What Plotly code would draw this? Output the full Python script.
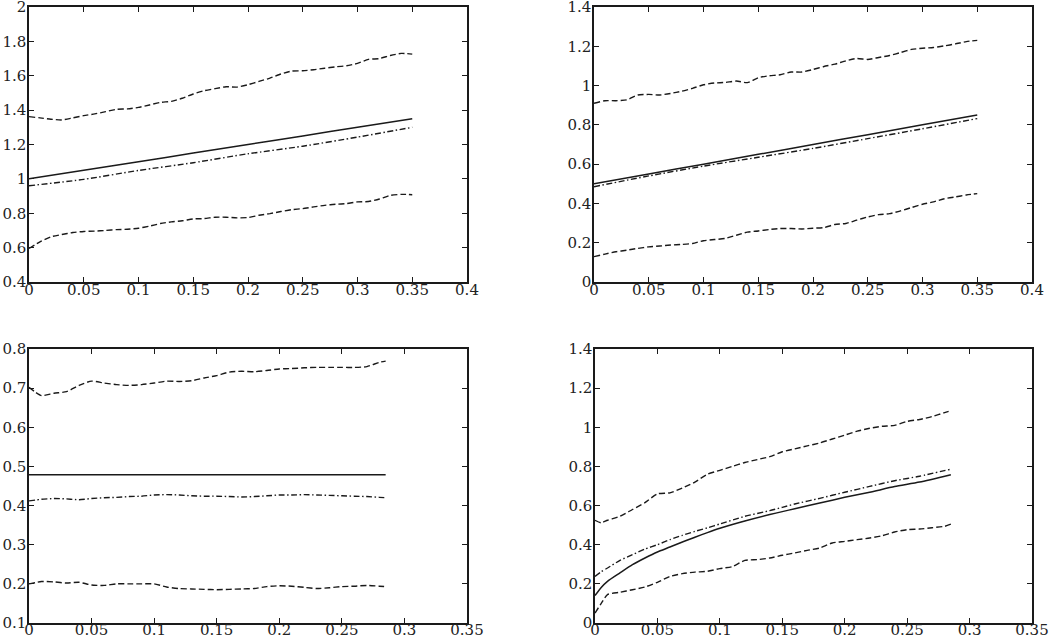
import plotly.graph_objects as go

# ---------------- data ----------------
x_a = [0.00, 0.01, 0.02, 0.03, 0.04, 0.05, 0.06, 0.07, 0.08, 0.09, 0.10, 0.11,
       0.12, 0.13, 0.14, 0.15, 0.16, 0.17, 0.18, 0.19, 0.20, 0.21, 0.22, 0.23,
       0.24, 0.25, 0.26, 0.27, 0.28, 0.29, 0.30, 0.31, 0.32, 0.33, 0.34, 0.35]

# panel 1 (top-left)
p1_upper = [1.362, 1.355, 1.347, 1.343, 1.355, 1.368, 1.378, 1.391, 1.405, 1.407,
            1.416, 1.430, 1.445, 1.451, 1.469, 1.494, 1.513, 1.525, 1.536, 1.534,
            1.548, 1.567, 1.586, 1.610, 1.627, 1.629, 1.635, 1.644, 1.652, 1.658,
            1.672, 1.695, 1.700, 1.718, 1.730, 1.726]
p1_lower = [0.595, 0.634, 0.663, 0.676, 0.688, 0.694, 0.696, 0.700, 0.705, 0.707,
            0.713, 0.725, 0.740, 0.750, 0.756, 0.767, 0.769, 0.777, 0.777, 0.773,
            0.775, 0.788, 0.798, 0.810, 0.821, 0.827, 0.837, 0.846, 0.852, 0.856,
            0.866, 0.868, 0.883, 0.904, 0.910, 0.908]
x_coarse = [0.00, 0.05, 0.10, 0.15, 0.20, 0.25, 0.30, 0.35]
p1_solid = [1.00, 1.05, 1.10, 1.15, 1.20, 1.25, 1.30, 1.35]
p1_dashdot = [0.960, 0.997, 1.049, 1.094, 1.146, 1.190, 1.243, 1.300]

# panel 2 (top-right)
p2_upper = [0.910, 0.923, 0.923, 0.927, 0.952, 0.955, 0.952, 0.960, 0.971, 0.986,
            1.004, 1.013, 1.016, 1.023, 1.015, 1.040, 1.050, 1.055, 1.069, 1.069,
            1.082, 1.097, 1.109, 1.126, 1.138, 1.133, 1.143, 1.153, 1.168, 1.184,
            1.190, 1.194, 1.202, 1.212, 1.224, 1.230]
p2_lower = [0.129, 0.142, 0.154, 0.162, 0.171, 0.179, 0.183, 0.188, 0.191, 0.196,
            0.210, 0.216, 0.222, 0.238, 0.254, 0.260, 0.267, 0.272, 0.272, 0.270,
            0.274, 0.277, 0.293, 0.298, 0.315, 0.331, 0.343, 0.348, 0.362, 0.379,
            0.396, 0.408, 0.424, 0.433, 0.443, 0.450]
p2_solid = [0.50, 0.55, 0.60, 0.65, 0.70, 0.75, 0.80, 0.85]
p2_dashdot = [0.485, 0.540, 0.590, 0.635, 0.680, 0.730, 0.780, 0.832]

# panel 3 (bottom-left)
x_b = [0.000, 0.005, 0.010, 0.020, 0.030, 0.040, 0.050, 0.060, 0.070, 0.080,
       0.090, 0.100, 0.110, 0.120, 0.130, 0.140, 0.150, 0.160, 0.170, 0.180,
       0.190, 0.200, 0.210, 0.220, 0.230, 0.240, 0.250, 0.260, 0.270, 0.280,
       0.285]
p3_upper = [0.702, 0.690, 0.681, 0.687, 0.691, 0.707, 0.718, 0.713, 0.709, 0.707,
            0.709, 0.713, 0.718, 0.717, 0.719, 0.726, 0.732, 0.741, 0.743, 0.742,
            0.745, 0.749, 0.750, 0.752, 0.753, 0.753, 0.753, 0.753, 0.755, 0.766,
            0.769]
p3_lower = [0.200, 0.203, 0.206, 0.205, 0.202, 0.204, 0.197, 0.196, 0.200, 0.200,
            0.200, 0.200, 0.192, 0.188, 0.187, 0.186, 0.185, 0.186, 0.187, 0.188,
            0.193, 0.195, 0.194, 0.191, 0.188, 0.190, 0.193, 0.194, 0.196, 0.194,
            0.193]
p3_dashdot = [0.412, 0.414, 0.416, 0.418, 0.417, 0.415, 0.418, 0.420, 0.421, 0.423,
              0.424, 0.427, 0.428, 0.427, 0.425, 0.424, 0.424, 0.423, 0.422, 0.423,
              0.425, 0.427, 0.427, 0.428, 0.427, 0.426, 0.425, 0.424, 0.423, 0.421,
              0.420]
p3_solid = [0.479] * len(x_b)

# panel 4 (bottom-right)
p4_upper = [0.525, 0.512, 0.525, 0.545, 0.580, 0.615, 0.660, 0.665, 0.690, 0.720,
            0.760, 0.780, 0.800, 0.820, 0.835, 0.850, 0.875, 0.890, 0.905, 0.920,
            0.940, 0.960, 0.980, 0.995, 1.005, 1.010, 1.030, 1.040, 1.055, 1.075,
            1.085]
p4_lower = [0.051, 0.100, 0.145, 0.157, 0.170, 0.184, 0.208, 0.238, 0.252, 0.260,
            0.264, 0.278, 0.288, 0.320, 0.324, 0.332, 0.346, 0.358, 0.371, 0.383,
            0.409, 0.417, 0.426, 0.434, 0.446, 0.465, 0.477, 0.480, 0.487, 0.494,
            0.505]
x_c = [0.000, 0.005, 0.010, 0.020, 0.030, 0.040, 0.050, 0.060, 0.070, 0.080,
       0.090, 0.100, 0.120, 0.140, 0.150, 0.160, 0.180, 0.200, 0.220, 0.240,
       0.260, 0.285]
p4_solid = [0.140, 0.182, 0.213, 0.256, 0.298, 0.332, 0.363, 0.388, 0.414, 0.438,
            0.462, 0.484, 0.521, 0.554, 0.569, 0.584, 0.613, 0.642, 0.668, 0.697,
            0.720, 0.758]
p4_dashdot = [0.238, 0.262, 0.281, 0.320, 0.349, 0.378, 0.400, 0.426, 0.448, 0.468,
              0.486, 0.506, 0.545, 0.574, 0.591, 0.608, 0.637, 0.668, 0.698, 0.727,
              0.750, 0.786]

# tick labels
xt_top = [0, 0.05, 0.1, 0.15, 0.2, 0.25, 0.3, 0.35, 0.4]
xt_top_text = ["0", "0.05", "0.1", "0.15", "0.2", "0.25", "0.3", "0.35", "0.4"]
xt_bot = [0, 0.05, 0.1, 0.15, 0.2, 0.25, 0.3, 0.35]
xt_bot_text = ["0", "0.05", "0.1", "0.15", "0.2", "0.25", "0.3", "0.35"]
yt1 = [0.4, 0.6, 0.8, 1.0, 1.2, 1.4, 1.6, 1.8, 2.0]
yt1_text = ["0.4", "0.6", "0.8", "1", "1.2", "1.4", "1.6", "1.8", "2"]
yt2 = [0, 0.2, 0.4, 0.6, 0.8, 1.0, 1.2, 1.4]
yt2_text = ["0", "0.2", "0.4", "0.6", "0.8", "1", "1.2", "1.4"]
yt3 = [0.1, 0.2, 0.3, 0.4, 0.5, 0.6, 0.7, 0.8]
yt3_text = ["0.1", "0.2", "0.3", "0.4", "0.5", "0.6", "0.7", "0.8"]
yt4 = yt2
yt4_text = yt2_text

# ---------------- figure ----------------
W, H = 1050, 638
FONT = "DejaVu Serif"
INK = "#1a1a1a"
DASH = "6px,3px"
DASHDOT = "6px,2.5px,1.5px,2.5px"

fig = go.Figure()

def add(xs, ys, n, dash, width=1.4):
    fig.add_trace(go.Scatter(
        x=xs, y=ys, mode="lines", xaxis="x" + ("" if n == 1 else str(n)),
        yaxis="y" + ("" if n == 1 else str(n)),
        line=dict(color=INK, width=width, dash=dash, shape="spline", smoothing=0.6),
        showlegend=False, hoverinfo="skip"))

add(x_a, p1_upper, 1, DASH)
add(x_a, p1_lower, 1, DASH)
add(x_coarse, p1_solid, 1, "solid", 1.5)
add(x_coarse, p1_dashdot, 1, DASHDOT)

add(x_a, p2_upper, 2, DASH)
add(x_a, p2_lower, 2, DASH)
add(x_coarse, p2_solid, 2, "solid", 1.5)
add(x_coarse, p2_dashdot, 2, DASHDOT)

add(x_b, p3_upper, 3, DASH)
add(x_b, p3_lower, 3, DASH)
add(x_b, p3_solid, 3, "solid", 1.5)
add(x_b, p3_dashdot, 3, DASHDOT)

add(x_b, p4_upper, 4, DASH)
add(x_b, p4_lower, 4, DASH)
add(x_c, p4_solid, 4, "solid", 1.5)
add(x_c, p4_dashdot, 4, DASHDOT)

def px_x(a, b):
    return [a / W, b / W]

def px_y(top, bottom):
    return [1 - bottom / H, 1 - top / H]

common = dict(showgrid=False, zeroline=False, showline=True, linecolor=INK,
              linewidth=1.5, mirror="ticks", ticks="inside", ticklen=5,
              tickwidth=1.2, tickcolor=INK, automargin=False,
              ticklabeloverflow="allow",
              tickfont=dict(family=FONT, size=15, color="#222"))
xcommon = dict(common, ticklabelstandoff=-7)
xcommon_bot = dict(common, ticklabelstandoff=-8)
ycommon = dict(common, ticklabelstandoff=-2)

fig.update_layout(
    width=W, height=H, margin=dict(l=0, r=0, t=0, b=0),
    paper_bgcolor="white", plot_bgcolor="white", showlegend=False,
    xaxis=dict(domain=px_x(29, 467), range=[0, 0.4], tickvals=xt_top,
               ticktext=xt_top_text, anchor="y", **xcommon),
    yaxis=dict(domain=px_y(7, 282), range=[0.4, 2.0], tickvals=yt1,
               ticktext=yt1_text, anchor="x", **ycommon),
    xaxis2=dict(domain=px_x(594, 1032), range=[0, 0.4], tickvals=xt_top,
                ticktext=xt_top_text, anchor="y2", **xcommon),
    yaxis2=dict(domain=px_y(7, 282), range=[0, 1.4], tickvals=yt2,
                ticktext=yt2_text, anchor="x2", **ycommon),
    xaxis3=dict(domain=px_x(29, 467), range=[0, 0.35], tickvals=xt_bot,
                ticktext=xt_bot_text, anchor="y3", **xcommon_bot),
    yaxis3=dict(domain=px_y(349, 623), range=[0.1, 0.8], tickvals=yt3,
                ticktext=yt3_text, anchor="x3", **ycommon),
    xaxis4=dict(domain=px_x(595, 1032), range=[0, 0.35], tickvals=xt_bot,
                ticktext=xt_bot_text, anchor="y4", **xcommon_bot),
    yaxis4=dict(domain=px_y(349, 623), range=[0, 1.4], tickvals=yt4,
                ticktext=yt4_text, anchor="x4", **ycommon),
)

fig.write_html(
    "out.html",
    config={"displayModeBar": False},
    post_script="document.body.style.margin='0';document.body.style.overflow='hidden';",
)
